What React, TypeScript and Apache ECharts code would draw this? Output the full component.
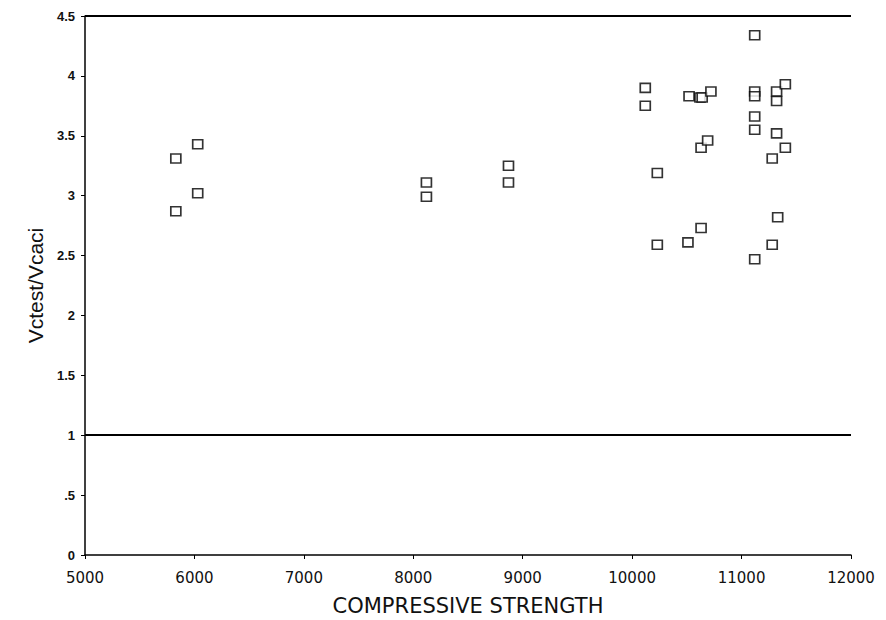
import React, { useEffect, useRef } from "react";
import * as echarts from "echarts";

const xTicks = [5000, 6000, 7000, 8000, 9000, 10000, 11000, 12000];
const yTicks = [0, 0.5, 1, 1.5, 2, 2.5, 3, 3.5, 4, 4.5];
const strength = [
  5830, 6030, 6030, 5830,
  8120, 8120, 8870, 8870,
  10120, 10120, 10230, 10230,
  10520, 10510, 10620, 10640, 10630, 10630, 10720, 10690,
  11120, 11120, 11120, 11120, 11120, 11120,
  11280, 11280, 11320, 11320, 11320, 11330, 11400, 11400,
];
const ratio = [
  3.31, 3.43, 3.02, 2.87,
  3.11, 2.99, 3.25, 3.11,
  3.90, 3.75, 3.19, 2.59,
  3.83, 2.61, 3.82, 3.82, 3.40, 2.73, 3.87, 3.46,
  4.34, 3.87, 3.83, 3.66, 3.55, 2.47,
  3.31, 2.59, 3.87, 3.79, 3.52, 2.82, 3.93, 3.40,
];
const refLines = [4.5, 1];

export default function App() {
  const ref = useRef<HTMLDivElement>(null);
  useEffect(() => {
    if (!ref.current) return;
    const chart = echarts.init(ref.current, null, { renderer: "svg" });
    const data = strength.map((s, i) => [s, ratio[i]]);
    chart.setOption({
      animation: false,
      backgroundColor: "#fff",
      grid: {
        left: 77,
        right: 27,
        top: 8,
        bottom: 65,
        containLabel: false,
        outerBoundsMode: "none",
      },
      xAxis: {
        type: "value",
        min: xTicks[0],
        max: xTicks[xTicks.length - 1],
        interval: 1000,
        name: "COMPRESSIVE STRENGTH",
        nameLocation: "middle",
        nameGap: 40,
        nameTextStyle: { fontFamily: "DejaVu Sans", fontSize: 21, color: "#111" },
        axisLine: { lineStyle: { color: "#000", width: 1.5 } },
        axisTick: { length: 4, lineStyle: { color: "#000" } },
        axisLabel: {
          fontFamily: "DejaVu Sans",
          fontSize: 15,
          color: "#111",
          margin: 15,
          formatter: (v: number) => String(v),
        },
        splitLine: { show: false },
      },
      yAxis: {
        type: "value",
        min: yTicks[0],
        max: yTicks[yTicks.length - 1],
        interval: 0.5,
        name: "Vctest/Vcaci",
        nameLocation: "middle",
        nameGap: 30,
        nameTextStyle: { fontFamily: "Liberation Sans", fontSize: 21, color: "#111" },
        axisLine: { lineStyle: { color: "#000", width: 1.5 } },
        axisTick: { length: 4, lineStyle: { color: "#000" } },
        axisLabel: {
          fontFamily: "Liberation Sans",
          fontWeight: "bold",
          fontSize: 13,
          color: "#111",
          margin: 10,
          formatter: (v: number) => (v === 0.5 ? ".5" : String(v)),
        },
        splitLine: { show: false },
      },
      series: [
        {
          type: "scatter",
          data,
          symbol: "rect",
          symbolSize: [10, 9],
          itemStyle: { color: "#fff", borderColor: "#000", borderWidth: 1.6 },
          markLine: {
            silent: true,
            symbol: "none",
            label: { show: false },
            lineStyle: { color: "#000", width: 2, type: "solid" },
            data: refLines.map((v) => ({ yAxis: v })),
          },
        },
      ],
    });
    return () => chart.dispose();
  }, []);
  return <div ref={ref} style={{ width: 870, height: 612 }} />;
}
